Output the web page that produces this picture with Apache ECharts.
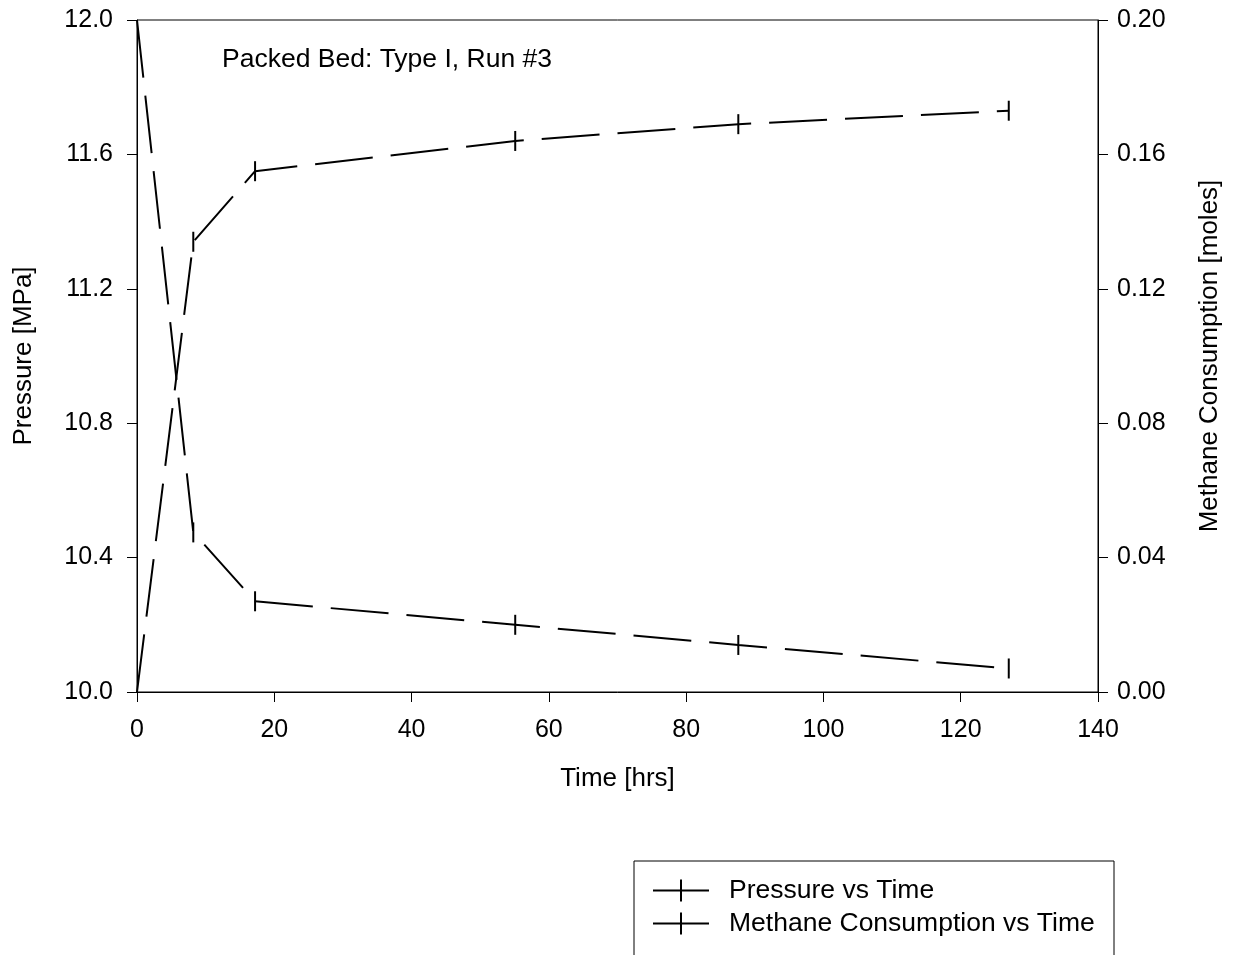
<!DOCTYPE html>
<html>
<head>
<meta charset="utf-8">
<script src="https://cdn.jsdelivr.net/npm/echarts@6/dist/echarts.min.js"></script>
<style>
  html, body { margin: 0; padding: 0; background: #fff; }
  #chart { width: 1237px; height: 955px; }
</style>
</head>
<body>
<div id="chart"></div>
<script>
// Packed bed hydrate run: pressure and methane uptake over time
const timeHrs = [0, 8.2, 17.2, 55.1, 87.6, 127.0];
const pressureMPa = [12.0, 10.475, 10.27, 10.20, 10.14, 10.07];
const methaneMoles = [0, 0.134, 0.155, 0.164, 0.169, 0.173];

const chartTitle = 'Packed Bed: Type I, Run #3';
const pressureName = 'Pressure vs Time';
const methaneName = 'Methane Consumption vs Time';

const FONT = '"Liberation Sans", Arial, Helvetica, sans-serif';

// Error-bar style vertical ticks at each measurement (none at the starting point)
function withTicks(xs, ys) {
  return xs.map((t, i) => {
    const item = { value: [t, ys[i]] };
    if (i === 0) item.symbol = 'none';
    return item;
  });
}

const crossIcon = 'path://M0,10 L56,10 L56,12 L0,12 Z M27,0 L29,0 L29,22 L27,22 Z';

const chart = echarts.init(document.getElementById('chart'), null, { renderer: 'canvas' });

const axisLine = { show: true, lineStyle: { color: '#000', width: 1 } };
const axisTick = { show: true, inside: false, length: 10, lineStyle: { color: '#000', width: 1 } };
const nameStyle = { fontFamily: FONT, fontSize: 26, color: '#000' };

chart.setOption({
  animation: false,
  backgroundColor: '#fff',
  textStyle: { fontFamily: FONT },
  title: {
    text: chartTitle,
    left: 222,
    top: 46,
    padding: 0,
    textStyle: { fontFamily: FONT, fontSize: 26.5, fontWeight: 'normal', color: '#000' }
  },
  grid: {
    left: 137, right: 139, top: 20, bottom: 263,
    show: true, borderColor: '#000', borderWidth: 1, backgroundColor: 'transparent'
  },
  legend: {
    orient: 'vertical',
    left: 653,
    top: 877,
    padding: 0,
    itemWidth: 56,
    itemHeight: 22,
    itemGap: 6,
    icon: crossIcon,
    textStyle: { fontFamily: FONT, fontSize: 26.5, color: '#000', padding: [0, 0, 0, 15], lineHeight: 26 },
    data: [pressureName, methaneName]
  },
  graphic: [{
    type: 'rect',
    shape: { x: 634, y: 861, width: 480, height: 140 },
    style: { fill: 'none', stroke: '#000', lineWidth: 1 },
    silent: true
  }],
  xAxis: {
    type: 'value',
    min: 0, max: 140, interval: 20,
    name: 'Time [hrs]',
    nameLocation: 'middle',
    nameGap: 74,
    nameTextStyle: nameStyle,
    axisLine, axisTick,
    axisLabel: { margin: 26, fontFamily: FONT, fontSize: 25, color: '#000' },
    splitLine: { show: false }
  },
  yAxis: [{
    type: 'value',
    position: 'left',
    min: 10, max: 12, interval: 0.4,
    name: 'Pressure [MPa]',
    nameLocation: 'middle',
    nameGap: 100,
    nameTextStyle: nameStyle,
    axisLine, axisTick,
    axisLabel: { margin: 24, fontFamily: FONT, fontSize: 25, color: '#000', formatter: v => v.toFixed(1) },
    splitLine: { show: false }
  }, {
    type: 'value',
    position: 'right',
    min: 0, max: 0.2, interval: 0.04,
    name: 'Methane Consumption [moles]',
    nameLocation: 'middle',
    nameGap: 99,
    nameTextStyle: nameStyle,
    axisLine, axisTick,
    axisLabel: { margin: 19, fontFamily: FONT, fontSize: 25, color: '#000', formatter: v => v.toFixed(2) },
    splitLine: { show: false }
  }],
  series: [{
    name: pressureName,
    type: 'line',
    yAxisIndex: 0,
    data: withTicks(timeHrs, pressureMPa),
    symbol: 'rect',
    symbolSize: [2, 20],
    itemStyle: { color: '#000' },
    lineStyle: { color: '#000', width: 2, type: [58, 18] },
    clip: false
  }, {
    name: methaneName,
    type: 'line',
    yAxisIndex: 1,
    data: withTicks(timeHrs, methaneMoles),
    symbol: 'rect',
    symbolSize: [2, 20],
    itemStyle: { color: '#000' },
    lineStyle: { color: '#000', width: 2, type: [58, 18] },
    clip: false
  }]
});
</script>
</body>
</html>
